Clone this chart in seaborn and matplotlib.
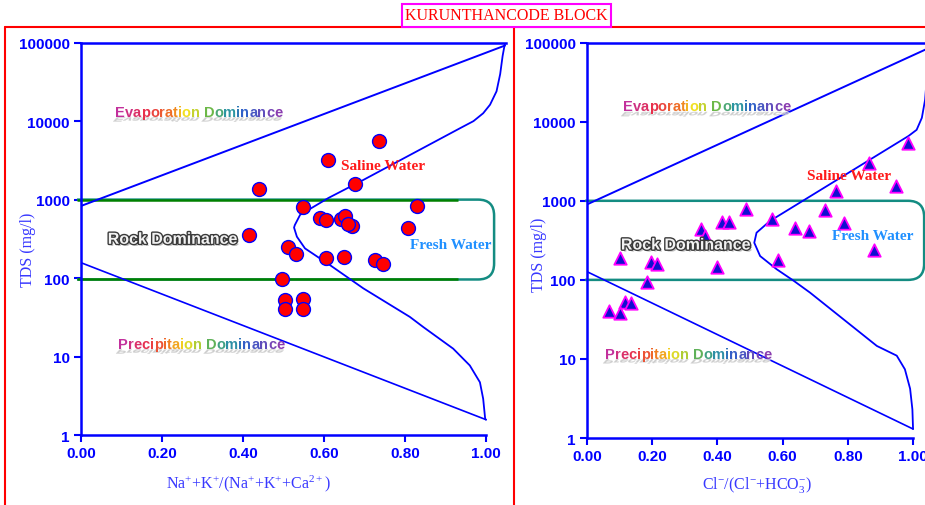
import numpy as np
import matplotlib
matplotlib.use("Agg")
import matplotlib.pyplot as plt
import seaborn as sns
from matplotlib import patheffects as pe
from matplotlib.path import Path
from matplotlib.patches import PathPatch
from matplotlib.transforms import IdentityTransform, Affine2D
from matplotlib.colors import LinearSegmentedColormap
from matplotlib.lines import Line2D
from matplotlib.ticker import NullLocator
from matplotlib.textpath import TextPath
from matplotlib.font_manager import FontProperties

sns.set_theme(style="white")
plt.rcParams['font.family'] = ['Liberation Sans', 'DejaVu Sans']
plt.rcParams['mathtext.fontset'] = 'custom'
plt.rcParams['mathtext.rm'] = 'Liberation Serif'
plt.rcParams['mathtext.it'] = 'Liberation Serif:italic'
plt.rcParams['mathtext.bf'] = 'Liberation Serif:bold'

TITLE = "KURUNTHANCODE BLOCK"
ytick_vals = [1, 10, 100, 1000, 10000, 100000]
ytick_labels = ["1", "10", "100", "1000", "10000", "100000"]
xtick_vals = [0.0, 0.2, 0.4, 0.6, 0.8, 1.0]
xtick_labels = ["0.00", "0.20", "0.40", "0.60", "0.80", "1.00"]

# ---- Left panel samples: Na+K/(Na+K+Ca) vs TDS
na_ratio = [0.736, 0.609, 0.677, 0.440, 0.549, 0.829, 0.589, 0.604, 0.641, 0.652,
            0.668, 0.660, 0.807, 0.416, 0.512, 0.531, 0.604, 0.649, 0.726, 0.745,
            0.497, 0.504, 0.549, 0.504, 0.549]
tds_na = [5630, 3160, 1590, 1370, 800, 824, 578, 556, 561, 626,
          467, 484, 440, 350, 248, 200, 182, 187, 171, 149,
          98, 53, 54, 40, 40]

# ---- Right panel samples: Cl/(Cl+HCO3) vs TDS
cl_ratio = [0.984, 0.864, 0.948, 0.764, 0.487, 0.729, 0.567, 0.413, 0.436, 0.789,
            0.638, 0.680, 0.349, 0.362, 0.881, 0.101, 0.195, 0.216, 0.586, 0.399,
            0.184, 0.117, 0.135, 0.067, 0.101]
tds_cl = [5390, 3010, 1530, 1330, 781, 765, 589, 535, 535, 524,
          457, 415, 436, 362, 241, 191, 170, 160, 177, 146,
          93, 52, 51, 40, 38]

# ---- Gibbs boundary lines (left)
left_upper_x = [0.0, 1.047]
left_upper_tds = [830, 92000]
left_lower_x = [0.0, 1.0]
left_lower_tds = [157, 1.57]
left_curve_x = [1.047, 1.041, 1.035, 1.026, 1.010, 0.993, 0.969, 0.936, 0.697, 0.611,
                0.541, 0.528, 0.526, 0.533, 0.553, 0.590, 0.615, 0.697, 0.812, 0.845,
                0.919, 0.960, 0.985, 0.993, 0.998, 1.0]
left_curve_tds = [100000, 67600, 39800, 24000, 16200, 12600, 10000, 8130, 1780, 1050,
                  640, 475, 440, 337, 239, 178, 146, 74, 32, 23.8,
                  12.6, 7.7, 4.7, 2.9, 1.6, 1.57]

# ---- Gibbs boundary lines (right)
right_upper_x = [0.0, 1.06]
right_upper_tds = [900, 90000]
right_lower_x = [0.0, 1.0]
right_lower_tds = [127, 1.3]
right_curve_x = [1.05, 1.045, 1.037, 1.027, 1.011, 0.986, 0.561, 0.520, 0.513, 0.531,
                 0.582, 0.633, 0.684, 0.889, 0.950, 0.975, 0.991, 0.998, 1.0]
right_curve_tds = [100000, 50000, 19000, 11200, 7900, 6600, 555, 395, 295, 200,
                   136, 98, 69, 14.6, 11, 7.4, 4.2, 2.3, 1.3]

# rock-dominance boxes (x-left, x-right, tds-low, tds-high)
left_box = (-0.01, 1.02, 96, 1000)
right_box = (-0.006, 1.034, 100, 1000)
left_green_x = [-0.01, 0.93]

BLUE = '#0000ff'
rainbow_cmap = LinearSegmentedColormap.from_list(
    'wordart', [(0.0, '#c2309c'), (0.15, '#e8304a'), (0.33, '#f07a20'),
                (0.45, '#f2e020'), (0.6, '#6cb848'), (0.7, '#2c96a0'),
                (0.8, '#3060c8'), (1.0, '#8a3cb0')])
RB_SIZE = 10.5
RB_FONT = FontProperties(family='Liberation Sans', weight='bold', size=RB_SIZE)

fig = plt.figure(figsize=(9.25, 5.06), dpi=100)
axL = fig.add_axes([0.0876, 0.1383, 0.4597, 0.7754])
axR = fig.add_axes([0.6346, 0.1324, 0.3701, 0.7813])


def style(ax):
    ax.set_facecolor('white')
    ax.set_yscale('log')
    ax.set_ylim(1, 100000)
    ax.set_xlim(0, 1.05)
    ax.set_yticks(ytick_vals)
    ax.set_yticklabels(ytick_labels)
    ax.yaxis.set_minor_locator(NullLocator())
    ax.set_xticks(xtick_vals)
    ax.set_xticklabels(xtick_labels)
    for s in ['left', 'bottom', 'top']:
        ax.spines[s].set_color(BLUE)
        ax.spines[s].set_linewidth(1.8)
    ax.spines['right'].set_visible(False)
    ax.spines['bottom'].set_bounds(0, 1)
    ax.tick_params(direction='out', length=5, width=1.5, color=BLUE,
                   labelcolor=BLUE, labelsize=11, pad=3,
                   bottom=True, left=True, top=False, right=False)
    for lab in ax.get_xticklabels() + ax.get_yticklabels():
        lab.set_fontweight('bold')
    ax.grid(False)


def rainbow(ax, x, y, text):
    """WordArt-like text: per-letter colours, flattened grey reflection below."""
    n = len(text)
    cols = [rainbow_cmap(i / (n - 1)) for i in range(n)]
    # reflection
    x0, y0 = ax.transData.transform((x, y))
    s = 100.0 / 72.0
    tp = TextPath((0, 0), text, prop=RB_FONT)
    trf = Affine2D().scale(s, -0.42 * s).skew_deg(42, 0).translate(x0 + 1, y0 - 1.5)
    ax.add_patch(PathPatch(tp, transform=trf, fc='#c4c4c4', ec='#d8d8d8', lw=0.3,
                           alpha=0.85, zorder=5, clip_on=False))
    t = ax.text(x, y, text[0], color=cols[0], fontproperties=RB_FONT,
                va='baseline', ha='left', zorder=6)
    for ch, c in zip(text[1:], cols[1:]):
        t = ax.annotate(ch, xy=(1, 0), xycoords=t, va='bottom', ha='left', color=c,
                        fontproperties=RB_FONT, zorder=6)


def rock(ax, x, y):
    ax.text(x, y, 'Rock Dominance', fontsize=11.5, fontweight='bold', color='#f2f2f2',
            ha='center', va='center', zorder=7,
            path_effects=[pe.SimplePatchShadow(offset=(1.5, -1.5), shadow_rgbFace='#999999', alpha=0.6),
                          pe.Stroke(linewidth=2, foreground='#3a3a3a'), pe.Normal()])


def rounded_box(ax, box, color, r=16, lw=1.8):
    xl, xr, yb, yt = box
    T = ax.transData
    x0, y0 = T.transform((xl, yb))
    x1, y1 = T.transform((xr, yt))
    verts = [(x0, y1), (x1 - r, y1), (x1, y1), (x1, y1 - r), (x1, y0 + r),
             (x1, y0), (x1 - r, y0), (x0, y0)]
    codes = [Path.MOVETO, Path.LINETO, Path.CURVE3, Path.CURVE3, Path.LINETO,
             Path.CURVE3, Path.CURVE3, Path.LINETO]
    p = PathPatch(Path(verts, codes), fill=False, ec=color, lw=lw,
                  transform=IdentityTransform(), clip_on=False, zorder=1.5)
    ax.add_patch(p)


# ---------------- Left panel
sns.lineplot(x=left_upper_x, y=left_upper_tds, sort=False, estimator=None, color=BLUE, lw=1.4, ax=axL)
sns.lineplot(x=left_lower_x, y=left_lower_tds, sort=False, estimator=None, color=BLUE, lw=1.2, ax=axL)
sns.lineplot(x=left_curve_x, y=left_curve_tds, sort=False, estimator=None, color=BLUE, lw=1.3, ax=axL)
sns.scatterplot(x=na_ratio, y=tds_na, marker='o', s=100, color='#ff0000', edgecolor=BLUE,
                linewidth=1, ax=axL, zorder=4, legend=False)
style(axL)
rounded_box(axL, left_box, '#148c82')
axL.hlines([left_box[2], left_box[3]], left_green_x[0], left_green_x[1], color='#008000', lw=1.8,
           zorder=1.6, clip_on=False)

rainbow(axL, 0.084, 11700, 'Evaporation Dominance')
rainbow(axL, 0.091, 12.9, 'Precipitaion Dominance')
rock(axL, 0.227, 312)
axL.text(0.746, 2750, 'Saline Water', family=['Liberation Serif'], fontweight='bold',
         fontsize=11, color='#ff1a1a', ha='center', va='center', zorder=6)
axL.text(0.914, 269, 'Fresh Water', family=['Liberation Serif'], fontweight='bold',
         fontsize=11, color='#2090ff', ha='center', va='center', zorder=6)
axL.set_xlabel(r'Na$^{+}$+K$^{+}$/(Na$^{+}$+K$^{+}$+Ca$^{2+}$)', family=['Liberation Serif'],
               fontsize=11.5, color='#3838ff')
axL.xaxis.set_label_coords(0.393, -0.095)
axL.set_ylabel('TDS (mg/l)', family=['Liberation Serif'], fontsize=11.5, color='#3838ff')
axL.yaxis.set_label_coords(-0.106, 0.474)

# ---------------- Right panel
sns.lineplot(x=right_upper_x, y=right_upper_tds, sort=False, estimator=None, color=BLUE, lw=1.4, ax=axR)
sns.lineplot(x=right_lower_x, y=right_lower_tds, sort=False, estimator=None, color=BLUE, lw=1.2, ax=axR)
sns.lineplot(x=right_curve_x, y=right_curve_tds, sort=False, estimator=None, color=BLUE, lw=1.3, ax=axR)
sns.scatterplot(x=cl_ratio, y=tds_cl, marker='^', s=80, color='#1010d0', edgecolor='#ff00ff',
                linewidth=1.3, ax=axR, zorder=4, legend=False)
style(axR)
rounded_box(axR, right_box, '#148c82')

rainbow(axR, 0.110, 13900, 'Evaporation Dominance')
rainbow(axR, 0.055, 10.4, 'Precipitaion Dominance')
rock(axR, 0.304, 276)
axR.text(0.804, 2060, 'Saline Water', family=['Liberation Serif'], fontweight='bold',
         fontsize=11, color='#ff1a1a', ha='center', va='center', zorder=6)
axR.text(0.877, 359, 'Fresh Water', family=['Liberation Serif'], fontweight='bold',
         fontsize=11, color='#2090ff', ha='center', va='center', zorder=6)
axR.set_xlabel(r'Cl$^{-}$/(Cl$^{-}$+HCO$_{3}^{-}$)', family=['Liberation Serif'],
               fontsize=11.5, color='#3838ff')
axR.xaxis.set_label_coords(0.497, -0.091)
axR.set_ylabel('TDS (mg/l)', family=['Liberation Serif'], fontsize=11.5, color='#3838ff')
axR.yaxis.set_label_coords(-0.117, 0.465)

# ---------------- Frame lines and title
W, H = 925.0, 506.0
def fx(px): return px / W
def fy(py): return (H - py) / H
for xs, ys in [([4.7, 4.7], [27.7, 520]), ([4.7, 930], [27.7, 27.7]), ([514, 514], [27.7, 520])]:
    fig.add_artist(Line2D([fx(v) for v in xs], [fy(v) for v in ys], transform=fig.transFigure,
                          color='#ff0000', lw=1.5, zorder=0.5))
fig.text(fx(506.5), fy(16.3), TITLE, ha='center', va='center', color='#ff0000', fontsize=11.5,
         family=['Liberation Serif'], zorder=5,
         bbox=dict(boxstyle='square,pad=0.22', fc='white', ec='#ff00ff', lw=1.5))

fig.savefig('out.png', dpi=100, facecolor='white')
